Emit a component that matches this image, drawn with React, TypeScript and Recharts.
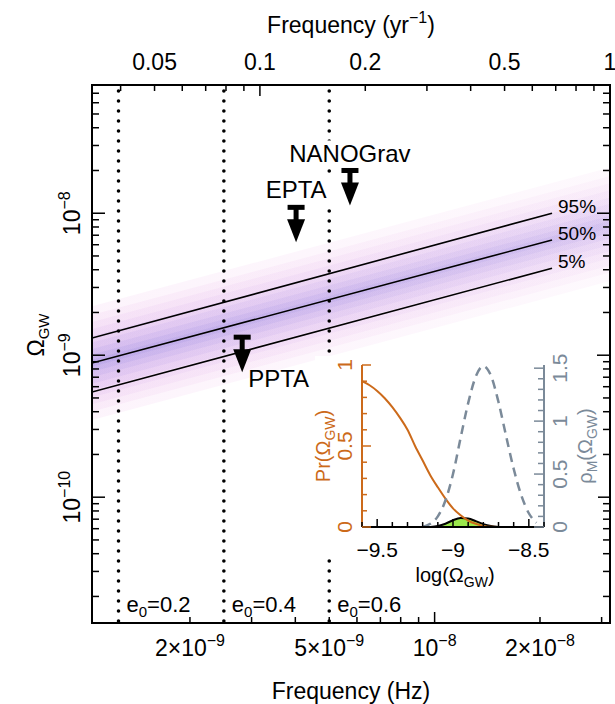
import React from "react";
import { ComposedChart, Line, Area, Scatter, XAxis, YAxis } from "recharts";

const FONT = '"Liberation Sans", Arial, Helvetica, sans-serif';
const HZ_PER_YR = 3.1688e-8;
const ORANGE = "#cc6a1a";
const GREY = "#7b8a99";
const GREEN = "#9be84c";

// ---- main panel: axes ----
const FREQ_DOMAIN = [1.05e-9, 3.17e-8];
const OMEGA_DOMAIN = [1.3e-11, 8e-8];

const X_TICKS = [2e-9, 3e-9, 4e-9, 5e-9, 6e-9, 7e-9, 8e-9, 9e-9, 1e-8, 2e-8, 3e-8];
const X_MAJOR = [1e-8];
const X_LABEL_VALUES = [2e-9, 5e-9, 1e-8, 2e-8];
const X_LABEL_MANT = ["2×10", "5×10", "10", "2×10"];
const X_LABEL_EXP = ["−9", "−9", "−8", "−8"];

const TOP_TICKS_YR = [0.04, 0.05, 0.06, 0.07, 0.08, 0.09, 0.1, 0.2, 0.3, 0.4, 0.5, 0.6, 0.7, 0.8, 0.9, 1];
const TOP_MAJOR_YR = [0.1, 1];
const TOP_LABEL_YR = [0.05, 0.1, 0.2, 0.5, 1];
const TOP_LABELS = ["0.05", "0.1", "0.2", "0.5", "1"];

const Y_DECADES = [-11, -10, -9, -8];
const Y_MANTISSAS = [1, 2, 3, 4, 5, 6, 7, 8, 9];
const Y_LABEL_DECADES = [-10, -9, -8];

// ---- main panel: data ----
// percentile lines (straight in log-log)
const PCT_FREQ = [1.05e-9, 2.165e-8];
const PCT_95 = [1.32e-9, 1.0e-8];
const PCT_50 = [8.8e-10, 6.48e-9];
const PCT_05 = [5.5e-10, 4.1e-9];
const PCT_NAMES = ["95%", "50%", "5%"];

// shaded distribution, outer layer first (values at left and right edge)
const BAND_FREQ = [1.05e-9, 3.17e-8];
const BAND_LO = [
  [3.5e-10, 3.33e-9],
  [4.02e-10, 3.82e-9],
  [4.51e-10, 4.28e-9],
  [5.06e-10, 4.81e-9],
  [5.68e-10, 5.39e-9],
  [6.3e-10, 5.98e-9],
  [6.99e-10, 6.63e-9],
  [7.66e-10, 7.27e-9],
  [8.31e-10, 7.88e-9],
];
const BAND_HI = [
  [2.21e-9, 2.1e-8],
  [1.925e-9, 1.827e-8],
  [1.716e-9, 1.628e-8],
  [1.529e-9, 1.451e-8],
  [1.363e-9, 1.293e-8],
  [1.229e-9, 1.166e-8],
  [1.108e-9, 1.051e-8],
  [1.01e-9, 9.59e-9],
  [9.32e-10, 8.85e-9],
];
const BAND_COLORS = ["#f2c6ee", "#eec2ec", "#e6bcee", "#d9b4ee", "#caaaec", "#b9a0ea", "#a996e6", "#9c8de2", "#9387de"];

// PTA upper limits
const PTA_NAMES = ["NANOGrav", "EPTA", "PPTA"];
const PTA_FREQ = [5.73e-9, 4.02e-9, 2.82e-9];
const PTA_OMEGA = [2.0e-8, 1.1e-8, 1.34e-9];

// eccentricity turnover frequencies
const ECC_E0 = ["0.2", "0.4", "0.6"];
const ECC_FREQ = [1.25e-9, 2.5e-9, 5.0e-9];

// ---- inset ----
const INSET_X_DOMAIN = [-9.6, -8.4];
const INSET_X_TICKS = [-9.6, -9.5, -9.4, -9.3, -9.2, -9.1, -9.0, -8.9, -8.8, -8.7, -8.6, -8.5, -8.4];
const INSET_X_LABELS = [-9.5, -9, -8.5];
const INSET_X_LABEL_TEXT = ["−9.5", "−9", "−8.5"];
const PR_TICKS = [0, 0.1, 0.2, 0.3, 0.4, 0.5, 0.6, 0.7, 0.8, 0.9, 1];
const RHO_TICKS = [0, 0.1, 0.2, 0.3, 0.4, 0.5, 0.6, 0.7, 0.8, 0.9, 1, 1.1, 1.2, 1.3, 1.4, 1.5];
const RHO_DOMAIN = [0, 1.53];

const PR_X = [-9.6, -9.55, -9.5, -9.45, -9.4, -9.35, -9.3, -9.25, -9.2, -9.15, -9.1, -9.05, -9.0, -8.95, -8.9, -8.85, -8.8, -8.75, -8.7];
const PR_Y = [0.9, 0.875, 0.84, 0.795, 0.74, 0.675, 0.6, 0.5, 0.41, 0.32, 0.245, 0.175, 0.115, 0.072, 0.04, 0.02, 0.007, 0.001, 0];

const RHO_X = [-9.2, -9.15, -9.1, -9.05, -9.0, -8.95, -8.9, -8.85, -8.8, -8.75, -8.7, -8.65, -8.6, -8.55, -8.5, -8.45];
const RHO_Y = [0.0, 0.03, 0.1, 0.25, 0.5, 0.84, 1.17, 1.42, 1.52, 1.43, 1.18, 0.86, 0.55, 0.3, 0.13, 0.04];

const JOINT_X = [-9.15, -9.1, -9.05, -9.0, -8.95, -8.9, -8.85, -8.8, -8.75, -8.7];
const JOINT_Y = [0, 0.006, 0.02, 0.042, 0.055, 0.052, 0.036, 0.018, 0.006, 0];

// ---- derived tables ----
const TOP_TICKS_HZ = TOP_TICKS_YR.map((v) => v * HZ_PER_YR);
const Y_TICKS: number[] = [];
const Y_TICK_MANT: number[] = [];
const Y_TICK_DEC: number[] = [];
Y_DECADES.forEach((d) =>
  Y_MANTISSAS.forEach((m) => {
    const v = m * Math.pow(10, d);
    if (v > OMEGA_DOMAIN[0] && v < OMEGA_DOMAIN[1] * 0.99) {
      Y_TICKS.push(v);
      Y_TICK_MANT.push(m);
      Y_TICK_DEC.push(d);
    }
  })
);

const bandData = BAND_FREQ.map((f, i) => {
  const row: any = { f };
  BAND_LO.forEach((lo, k) => {
    row["b" + k] = [lo[i], BAND_HI[k][i]];
  });
  return row;
});
const pctData = PCT_FREQ.map((f, i) => ({ f, p95: PCT_95[i], p50: PCT_50[i], p05: PCT_05[i] }));
const pctLabelData = PCT_NAMES.map((name, i) => ({
  name,
  f: PCT_FREQ[PCT_FREQ.length - 1],
  omega: [PCT_95, PCT_50, PCT_05][i][PCT_FREQ.length - 1],
}));
const ptaData = PTA_NAMES.map((name, i) => ({ name, f: PTA_FREQ[i], omega: PTA_OMEGA[i] }));
const eccLines = ECC_FREQ.map((f) => [
  { f, omega: OMEGA_DOMAIN[1] },
  { f, omega: OMEGA_DOMAIN[0] },
]);
const eccLabelData = ECC_FREQ.map((f, i) => ({ f, omega: OMEGA_DOMAIN[0], e0: ECC_E0[i] }));

const prData = PR_X.map((x, i) => ({ x, y: PR_Y[i] }));
const rhoData = RHO_X.map((x, i) => ({ x, y: RHO_Y[i] }));
const jointData = JOINT_X.map((x, i) => ({ x, y: JOINT_Y[i] }));

// label placement for the limits (offsets from the bar centre)
const PTA_LABEL_LAYOUT: Record<string, { dx: number; dy: number; anchor: string; box?: [number, number] }> = {
  NANOGrav: { dx: 0, dy: -8, anchor: "middle", box: [140, 28] },
  EPTA: { dx: 0, dy: -9.5, anchor: "middle", box: [72, 28] },
  PPTA: { dx: 6, dy: 50, anchor: "start" },
};

const AXIS_LINE = { stroke: "#000", strokeWidth: 2, strokeLinecap: "square" as const };

// ---- tick renderers ----
function BottomTick(props: any) {
  const { x, y, payload } = props;
  const v = payload.value;
  const len = X_MAJOR.includes(v) ? 11 : 6;
  const li = X_LABEL_VALUES.indexOf(v);
  return (
    <g>
      <line x1={x} y1={y} x2={x} y2={y - len} stroke="#000" strokeWidth={1.5} />
      {li >= 0 && (
        <text x={x} y={y + 33} textAnchor="middle" fontSize={23} fontFamily={FONT} fill="#000">
          {X_LABEL_MANT[li]}
          <tspan dy={-10} fontSize={16}>{X_LABEL_EXP[li]}</tspan>
        </text>
      )}
    </g>
  );
}

function TopTick(props: any) {
  const { x, y, payload } = props;
  const i = TOP_TICKS_HZ.indexOf(payload.value);
  const yr = TOP_TICKS_YR[i];
  const len = TOP_MAJOR_YR.includes(yr) ? 11 : 6;
  const li = TOP_LABEL_YR.indexOf(yr);
  return (
    <g>
      <line x1={x} y1={y} x2={x} y2={y + len} stroke="#000" strokeWidth={1.5} />
      {li >= 0 && (
        <text x={x} y={y - 15} textAnchor="middle" fontSize={23} fontFamily={FONT} fill="#000">
          {TOP_LABELS[li]}
        </text>
      )}
    </g>
  );
}

function LeftTick(props: any) {
  const { x, y, payload } = props;
  const i = Y_TICKS.indexOf(payload.value);
  const major = Y_TICK_MANT[i] === 1;
  const len = major ? 13 : 7;
  const showLabel = major && Y_LABEL_DECADES.includes(Y_TICK_DEC[i]);
  return (
    <g>
      <line x1={x} y1={y} x2={x + len} y2={y} stroke="#000" strokeWidth={1.5} />
      {showLabel && (
        <text
          transform={`translate(${x - 12},${y}) rotate(-90)`}
          textAnchor="middle"
          fontSize={23}
          fontFamily={FONT}
          fill="#000"
        >
          10
          <tspan dy={-10} fontSize={16}>{"−" + Math.abs(Y_TICK_DEC[i])}</tspan>
        </text>
      )}
    </g>
  );
}

function RightTick(props: any) {
  const { x, y, payload } = props;
  const i = Y_TICKS.indexOf(payload.value);
  const len = Y_TICK_MANT[i] === 1 ? 13 : 7;
  return <line x1={x} y1={y} x2={x - len} y2={y} stroke="#000" strokeWidth={1.5} />;
}

function InsetBottomTick(props: any) {
  const { x, y, payload } = props;
  const li = INSET_X_LABELS.indexOf(payload.value);
  const len = li >= 0 ? 8 : 5;
  return (
    <g>
      <line x1={x} y1={y} x2={x} y2={y - len} stroke="#000" strokeWidth={1.5} />
      {li >= 0 && (
        <text x={x} y={y + 30} textAnchor="middle" fontSize={21} fontFamily={FONT} fill="#000">
          {INSET_X_LABEL_TEXT[li]}
        </text>
      )}
    </g>
  );
}

function PrTick(props: any) {
  const { x, y, payload } = props;
  const v = payload.value;
  const major = v === 0 || v === 0.5 || v === 1;
  return (
    <g>
      <line x1={x} y1={y} x2={x + (major ? 9 : 5)} y2={y} stroke={ORANGE} strokeWidth={1.5} />
      {major && (
        <text transform={`translate(${x - 10},${y}) rotate(-90)`} textAnchor="middle" fontSize={21} fontFamily={FONT} fill={ORANGE}>
          {String(v)}
        </text>
      )}
    </g>
  );
}

function RhoTick(props: any) {
  const { x, y, payload } = props;
  const v = payload.value;
  const major = v === 0 || v === 0.5 || v === 1 || v === 1.5;
  return (
    <g>
      <line x1={x} y1={y} x2={x - (major ? 10 : 6)} y2={y} stroke={GREY} strokeWidth={1.5} />
      {major && (
        <text transform={`translate(${x + 23},${y}) rotate(-90)`} textAnchor="middle" fontSize={21} fontFamily={FONT} fill={GREY}>
          {String(v)}
        </text>
      )}
    </g>
  );
}

// ---- shapes ----
function LimitArrow(props: any) {
  const { cx, cy, payload } = props;
  if (cx == null || cy == null) return <g />;
  const lay = PTA_LABEL_LAYOUT[payload.name];
  const tx = cx + lay.dx;
  const ty = cy + lay.dy;
  return (
    <g>
      {lay.box && (
        <rect x={tx - lay.box[0] / 2} y={ty - 22} width={lay.box[0]} height={lay.box[1]} fill="#fff" />
      )}
      <text x={tx} y={ty} textAnchor={lay.anchor as any} fontSize={24} fontFamily={FONT} fill="#000">
        {payload.name}
      </text>
      <rect x={cx - 8.5} y={cy - 2.5} width={17} height={5} fill="#000" />
      <rect x={cx - 2.5} y={cy} width={5} height={14} fill="#000" />
      <polygon points={`${cx - 9},${cy + 12} ${cx + 9},${cy + 12} ${cx},${cy + 35}`} fill="#000" />
    </g>
  );
}

function PctLabel(props: any) {
  const { cx, cy, payload } = props;
  if (cx == null) return <g />;
  return (
    <text x={cx + 6} y={cy} fontSize={19} fontFamily={FONT} fill="#000">
      {payload.name}
    </text>
  );
}

function EccLabel(props: any) {
  const { cx, cy, payload } = props;
  if (cx == null) return <g />;
  return (
    <text x={cx + 8} y={cy - 11} fontSize={22} fontFamily={FONT} fill="#000">
      e<tspan dy={5} fontSize={15}>0</tspan>
      <tspan dy={-5}>{"=" + payload.e0}</tspan>
    </text>
  );
}

export default function App() {
  return (
    <div style={{ position: "relative", width: 615, height: 704, background: "#fff", fontFamily: FONT }}>
      <style>{"body{margin:0;background:#fff}"}</style>
      <ComposedChart width={615} height={704} margin={{ top: 0, right: 0, bottom: 0, left: 0 }}>
        <defs>
          {BAND_COLORS.map((c, k) => (
            <linearGradient key={k} id={"bandFade" + k} x1="0" y1="0" x2="1" y2="0">
              <stop offset="0" stopColor={c} stopOpacity={0.19} />
              <stop offset="1" stopColor={c} stopOpacity={0.11} />
            </linearGradient>
          ))}
        </defs>
        <XAxis
          xAxisId="bottom"
          dataKey="f"
          type="number"
          scale="log"
          domain={FREQ_DOMAIN}
          allowDataOverflow
          ticks={X_TICKS}
          interval={0}
          height={81}
          tickSize={0}
          tickMargin={0}
          tick={<BottomTick />}
          axisLine={AXIS_LINE}
        />
        <XAxis
          xAxisId="top"
          orientation="top"
          dataKey="f"
          type="number"
          scale="log"
          domain={FREQ_DOMAIN}
          allowDataOverflow
          ticks={TOP_TICKS_HZ}
          interval={0}
          height={85}
          tickSize={0}
          tickMargin={0}
          tick={<TopTick />}
          axisLine={AXIS_LINE}
        />
        <YAxis
          yAxisId="left"
          type="number"
          scale="log"
          domain={OMEGA_DOMAIN}
          allowDataOverflow
          ticks={Y_TICKS}
          interval={0}
          width={92}
          tickSize={0}
          tickMargin={0}
          tick={<LeftTick />}
          axisLine={AXIS_LINE}
        />
        <YAxis
          yAxisId="right"
          orientation="right"
          type="number"
          scale="log"
          domain={OMEGA_DOMAIN}
          allowDataOverflow
          ticks={Y_TICKS}
          interval={0}
          width={5}
          tickSize={0}
          tickMargin={0}
          tick={<RightTick />}
          axisLine={AXIS_LINE}
        />

        {/* shaded distribution */}
        {BAND_COLORS.map((c, k) => (
          <Area
            key={"band" + k}
            xAxisId="bottom"
            yAxisId="left"
            data={bandData}
            dataKey={"b" + k}
            fill={`url(#bandFade${k})`}
            fillOpacity={1}
            stroke="none"
            isAnimationActive={false}
          />
        ))}

        {/* helper series so the top / right axes are bound */}
        <Line
          xAxisId="top"
          yAxisId="right"
          data={pctData}
          dataKey="p50"
          stroke="none"
          dot={false}
          activeDot={false}
          isAnimationActive={false}
        />

        {/* percentile lines */}
        {["p95", "p50", "p05"].map((k) => (
          <Line
            key={k}
            xAxisId="bottom"
            yAxisId="left"
            data={pctData}
            dataKey={k}
            stroke="#000"
            strokeWidth={1.6}
            dot={false}
            activeDot={false}
            isAnimationActive={false}
          />
        ))}

        {/* eccentricity lines */}
        {eccLines.map((d, i) => (
          <Line
            key={"ecc" + i}
            xAxisId="bottom"
            yAxisId="left"
            data={d}
            dataKey="omega"
            stroke="#000"
            strokeWidth={3.6}
            strokeDasharray="0 10"
            strokeDashoffset={4}
            strokeLinecap="round"
            dot={false}
            activeDot={false}
            isAnimationActive={false}
          />
        ))}

        <Scatter
          xAxisId="bottom"
          yAxisId="left"
          data={pctLabelData}
          dataKey="omega"
          shape={<PctLabel />}
          isAnimationActive={false}
        />
        <Scatter
          xAxisId="bottom"
          yAxisId="left"
          data={eccLabelData}
          dataKey="omega"
          shape={<EccLabel />}
          isAnimationActive={false}
        />
        <Scatter
          xAxisId="bottom"
          yAxisId="left"
          data={ptaData}
          dataKey="omega"
          shape={<LimitArrow />}
          isAnimationActive={false}
        />
      </ComposedChart>

      {/* inset */}
      <div style={{ position: "absolute", left: 315, top: 356, width: 283, height: 202, background: "#fff" }} />
      <div style={{ position: "absolute", left: 295, top: 345 }}>
        <ComposedChart width={305} height={250} margin={{ top: 20, right: 0, bottom: 0, left: 0 }}>
          <XAxis
            dataKey="x"
            type="number"
            domain={INSET_X_DOMAIN}
            allowDataOverflow
            ticks={INSET_X_TICKS}
            interval={0}
            height={68}
            tickSize={0}
            tickMargin={0}
            tick={<InsetBottomTick />}
            axisLine={{ stroke: "#000", strokeWidth: 2 }}
          />
          <YAxis
            yAxisId="pr"
            type="number"
            domain={[0, 1]}
            allowDataOverflow
            ticks={PR_TICKS}
            interval={0}
            width={67}
            tickSize={0}
            tickMargin={0}
            tick={<PrTick />}
            axisLine={{ stroke: ORANGE, strokeWidth: 2 }}
          />
          <YAxis
            yAxisId="rho"
            orientation="right"
            type="number"
            domain={RHO_DOMAIN}
            allowDataOverflow
            ticks={RHO_TICKS}
            interval={0}
            width={56}
            tickSize={0}
            tickMargin={0}
            tick={<RhoTick />}
            axisLine={{ stroke: GREY, strokeWidth: 2 }}
          />
          <Area
            yAxisId="pr"
            data={jointData}
            dataKey="y"
            type="monotone"
            fill={GREEN}
            fillOpacity={1}
            stroke="#000"
            strokeWidth={2}
            isAnimationActive={false}
          />
          <Line
            yAxisId="pr"
            data={prData}
            dataKey="y"
            type="monotone"
            stroke={ORANGE}
            strokeWidth={2}
            dot={false}
            activeDot={false}
            isAnimationActive={false}
          />
          <Line
            yAxisId="rho"
            data={rhoData}
            dataKey="y"
            type="monotone"
            stroke={GREY}
            strokeWidth={2.5}
            strokeDasharray="9 6"
            dot={false}
            activeDot={false}
            isAnimationActive={false}
          />
        </ComposedChart>
      </div>

      {/* axis titles */}
      <svg
        width={615}
        height={704}
        style={{ position: "absolute", left: 0, top: 0, pointerEvents: "none" }}
        fontFamily={FONT}
      >
        <text x={351} y={33} textAnchor="middle" fontSize={23}>
          Frequency (yr<tspan dy={-10} fontSize={16}>−1</tspan>
          <tspan dy={10}>)</tspan>
        </text>
        <text x={351} y={699} textAnchor="middle" fontSize={23}>
          Frequency (Hz)
        </text>
        <text transform="translate(44,335) rotate(-90)" textAnchor="middle" fontSize={23}>
          Ω<tspan dy={5} fontSize={15}>GW</tspan>
        </text>
        <text x={455} y={582} textAnchor="middle" fontSize={20}>
          log(Ω<tspan dy={5} fontSize={14}>GW</tspan>
          <tspan dy={-5}>)</tspan>
        </text>
        <text transform="translate(330,446) rotate(-90)" textAnchor="middle" fontSize={20} fill={ORANGE}>
          Pr(Ω<tspan dy={5} fontSize={14}>GW</tspan>
          <tspan dy={-5}>)</tspan>
        </text>
        <text transform="translate(592,446) rotate(-90)" textAnchor="middle" fontSize={20} fill={GREY}>
          ρ<tspan dy={5} fontSize={14}>M</tspan>
          <tspan dy={-5}>(Ω</tspan>
          <tspan dy={5} fontSize={14}>GW</tspan>
          <tspan dy={-5}>)</tspan>
        </text>
      </svg>
    </div>
  );
}
